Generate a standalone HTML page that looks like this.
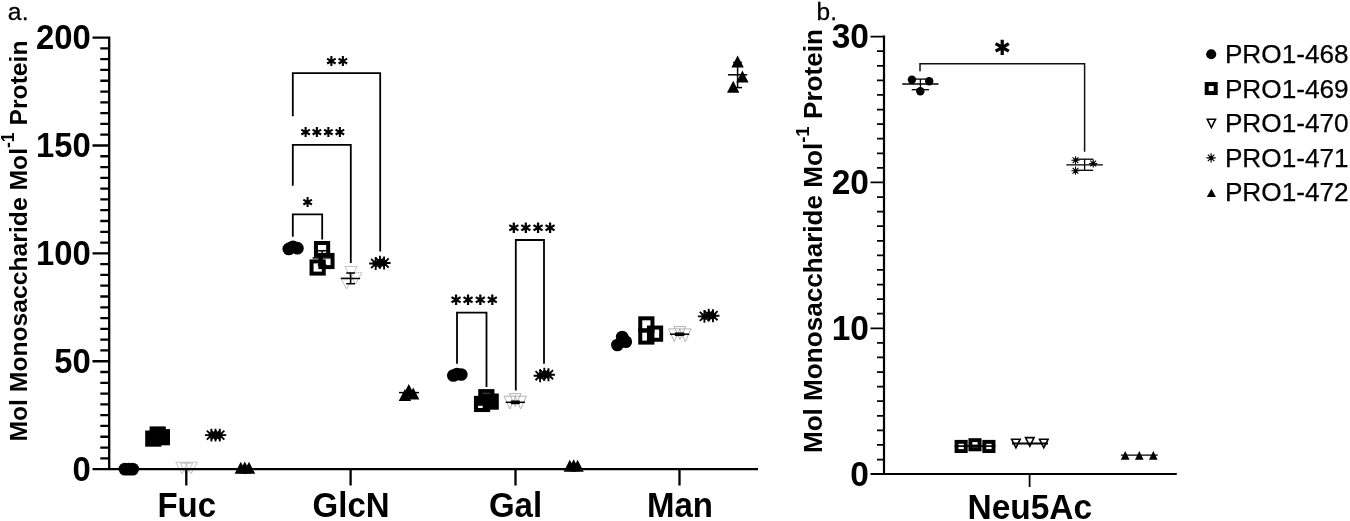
<!DOCTYPE html>
<html lang="en"><head><meta charset="utf-8"><title>Monosaccharide composition</title>
<style>
html,body{margin:0;padding:0;background:#fff;}
body{width:1350px;height:521px;overflow:hidden;}
svg{display:block;font-family:"Liberation Sans", Arial, Helvetica, sans-serif;}
.b{font-weight:bold;}
.ax{stroke:#000;fill:none;}
</style></head><body>
<svg width="1350" height="521" viewBox="0 0 1350 521">
<rect width="1350" height="521" fill="#fff"/>
<text transform="translate(90.8 480.9) scale(0.985 1.06)" font-size="33.3" text-anchor="end" class="b">0</text>
<text transform="translate(90.8 373.03) scale(0.985 1.06)" font-size="33.3" text-anchor="end" class="b">50</text>
<text transform="translate(90.8 265.15) scale(0.985 1.06)" font-size="33.3" text-anchor="end" class="b">100</text>
<text transform="translate(90.8 157.28) scale(0.985 1.06)" font-size="33.3" text-anchor="end" class="b">150</text>
<text transform="translate(90.8 49.4) scale(0.985 1.06)" font-size="33.3" text-anchor="end" class="b">200</text>
<text transform="translate(186.75 516.9) scale(1 1.06)" font-size="33" text-anchor="middle" class="b">Fuc</text>
<text transform="translate(351.05 516.9) scale(1 1.06)" font-size="33" text-anchor="middle" class="b">GlcN</text>
<text transform="translate(515.5 516.9) scale(1 1.06)" font-size="33" text-anchor="middle" class="b">Gal</text>
<text transform="translate(679.95 516.9) scale(1 1.06)" font-size="33" text-anchor="middle" class="b">Man</text>
<text transform="translate(26.7 241) rotate(-90)" font-size="24.7" text-anchor="middle" class="b">Mol Monosaccharide Mol<tspan font-size="17.6" dy="-12.4">-1</tspan><tspan dy="12.4"> Protein</tspan></text>
<text x="7.7" y="20" font-size="24.6" text-anchor="start" stroke="#000" stroke-width="0.3" letter-spacing="0.4">a.</text>
<circle cx="125" cy="469.1" r="6.45" fill="#000"/>
<circle cx="128.8" cy="469.1" r="6.45" fill="#000"/>
<circle cx="132.6" cy="469.1" r="6.45" fill="#000"/>
<rect x="145.2" y="430.5" width="16.2" height="16.2" fill="#000"/>
<rect x="149.6" y="426.4" width="16.2" height="16.2" fill="#000"/>
<rect x="153.8" y="429.1" width="16.2" height="16.2" fill="#000"/>
<path d="M175.7 462.25H188.1L181.9 473.75Z" fill="none" stroke="#bdbdbd" stroke-width="0.9" stroke-linejoin="miter"/>
<path d="M180.3 463.15H192.7L186.5 474.65Z" fill="none" stroke="#bdbdbd" stroke-width="0.9" stroke-linejoin="miter"/>
<path d="M184.9 462.25H197.3L191.1 473.75Z" fill="none" stroke="#bdbdbd" stroke-width="0.9" stroke-linejoin="miter"/>
<path d="M204.95 435.1L217.85 435.1M206.84 430.54L215.96 439.66M211.4 428.65L211.4 441.55M215.96 430.54L206.84 439.66" stroke="#000" stroke-width="1.85" fill="none"/><circle cx="211.4" cy="435.1" r="2.97" fill="#000"/>
<path d="M209.05 435.1L221.95 435.1M210.94 430.54L220.06 439.66M215.5 428.65L215.5 441.55M220.06 430.54L210.94 439.66" stroke="#000" stroke-width="1.85" fill="none"/><circle cx="215.5" cy="435.1" r="2.97" fill="#000"/>
<path d="M213.35 435.1L226.25 435.1M215.24 430.54L224.36 439.66M219.8 428.65L219.8 441.55M224.36 430.54L215.24 439.66" stroke="#000" stroke-width="1.85" fill="none"/><circle cx="219.8" cy="435.1" r="2.97" fill="#000"/>
<path d="M234.6 473.8H247L240.8 461.8Z" fill="#000"/>
<path d="M238.6 473.6H251L244.8 461.6Z" fill="#000"/>
<path d="M242.8 473.8H255.2L249 461.8Z" fill="#000"/>
<circle cx="288.8" cy="248.9" r="6.35" fill="#000"/>
<circle cx="293" cy="246.8" r="6.35" fill="#000"/>
<circle cx="297.4" cy="248.2" r="6.35" fill="#000"/>
<rect x="315.95" y="243" width="12.2" height="12.2" fill="none" stroke="#000" stroke-width="4"/>
<rect x="320.35" y="254.9" width="12.2" height="12.2" fill="none" stroke="#000" stroke-width="4"/>
<rect x="311.55" y="261.4" width="12.2" height="12.2" fill="none" stroke="#000" stroke-width="4"/>
<path d="M312.6 257.9H331.6" stroke="#000" stroke-width="1.5" fill="none"/>
<path d="M317.75 250.8H326.45" stroke="#000" stroke-width="1.5" fill="none"/>
<path d="M317.75 265H326.45" stroke="#000" stroke-width="1.5" fill="none"/>
<path d="M322.1 250.8V265" stroke="#000" stroke-width="1.5" fill="none"/>
<path d="M344.8 266.45H357.2L351 277.95Z" fill="none" stroke="#bdbdbd" stroke-width="0.9" stroke-linejoin="miter"/>
<path d="M349.4 272.75H361.8L355.6 284.25Z" fill="none" stroke="#bdbdbd" stroke-width="0.9" stroke-linejoin="miter"/>
<path d="M340.4 277.65H352.8L346.6 289.15Z" fill="none" stroke="#bdbdbd" stroke-width="0.9" stroke-linejoin="miter"/>
<path d="M341.1 278.5H360.1" stroke="#000" stroke-width="1.5" fill="none"/>
<path d="M346.25 273H354.95" stroke="#000" stroke-width="1.5" fill="none"/>
<path d="M346.25 283.7H354.95" stroke="#000" stroke-width="1.5" fill="none"/>
<path d="M350.6 273V283.7" stroke="#000" stroke-width="1.5" fill="none"/>
<path d="M369.25 263.5L382.15 263.5M371.14 258.94L380.26 268.06M375.7 257.05L375.7 269.95M380.26 258.94L371.14 268.06" stroke="#000" stroke-width="1.85" fill="none"/><circle cx="375.7" cy="263.5" r="2.97" fill="#000"/>
<path d="M373.45 262.2L386.35 262.2M375.34 257.64L384.46 266.76M379.9 255.75L379.9 268.65M384.46 257.64L375.34 266.76" stroke="#000" stroke-width="1.85" fill="none"/><circle cx="379.9" cy="262.2" r="2.97" fill="#000"/>
<path d="M377.65 263L390.55 263M379.54 258.44L388.66 267.56M384.1 256.55L384.1 269.45M388.66 258.44L379.54 267.56" stroke="#000" stroke-width="1.85" fill="none"/><circle cx="384.1" cy="263" r="2.97" fill="#000"/>
<path d="M398.7 400.9H411.1L404.9 388.9Z" fill="#000"/>
<path d="M402.6 396H415L408.8 384Z" fill="#000"/>
<path d="M407 399.4H419.4L413.2 387.4Z" fill="#000"/>
<path d="M399 392.6H419" stroke="#000" stroke-width="1.5" fill="none"/>
<circle cx="453.3" cy="375.5" r="6.35" fill="#000"/>
<circle cx="457" cy="374.1" r="6.35" fill="#000"/>
<circle cx="461.3" cy="374.5" r="6.35" fill="#000"/>
<rect x="478.25" y="389.1" width="16.2" height="16.2" fill="#000"/>
<rect x="473.95" y="395.85" width="16.2" height="16.2" fill="#000"/>
<rect x="482.6" y="393.5" width="16.2" height="16.2" fill="#000"/>
<rect x="478.1" y="405.8" width="4.6" height="2.2" fill="#fff"/>
<rect x="482.4" y="392.7" width="7.8" height="1.4" fill="#333"/>
<path d="M504.1 396.2H515.7L509.9 409Z" fill="none" stroke="#aaa" stroke-width="0.9" stroke-linejoin="miter"/>
<path d="M509.4 393.7H521L515.2 406.5Z" fill="none" stroke="#aaa" stroke-width="0.9" stroke-linejoin="miter"/>
<path d="M514.8 396.2H526.4L520.6 409Z" fill="none" stroke="#aaa" stroke-width="0.9" stroke-linejoin="miter"/>
<path d="M505.6 402.3H525" stroke="#000" stroke-width="1.5" fill="none"/>
<path d="M510.8 401.2H519.8" stroke="#000" stroke-width="1.5" fill="none"/>
<path d="M510.8 403.4H519.8" stroke="#000" stroke-width="1.5" fill="none"/>
<path d="M515.3 401.2V403.4" stroke="#000" stroke-width="1.5" fill="none"/>
<path d="M533.65 375.7L546.55 375.7M535.54 371.14L544.66 380.26M540.1 369.25L540.1 382.15M544.66 371.14L535.54 380.26" stroke="#000" stroke-width="1.85" fill="none"/><circle cx="540.1" cy="375.7" r="2.97" fill="#000"/>
<path d="M537.85 374.2L550.75 374.2M539.74 369.64L548.86 378.76M544.3 367.75L544.3 380.65M548.86 369.64L539.74 378.76" stroke="#000" stroke-width="1.85" fill="none"/><circle cx="544.3" cy="374.2" r="2.97" fill="#000"/>
<path d="M542.05 374.7L554.95 374.7M543.94 370.14L553.06 379.26M548.5 368.25L548.5 381.15M553.06 370.14L543.94 379.26" stroke="#000" stroke-width="1.85" fill="none"/><circle cx="548.5" cy="374.7" r="2.97" fill="#000"/>
<path d="M563.6 471.8H576L569.8 459.8Z" fill="#000"/>
<path d="M567.5 471.2H579.9L573.7 459.2Z" fill="#000"/>
<path d="M571.4 471.8H583.8L577.6 459.8Z" fill="#000"/>
<circle cx="617.4" cy="345" r="6.35" fill="#000"/>
<circle cx="622.2" cy="337" r="6.35" fill="#000"/>
<circle cx="625.8" cy="341.7" r="6.35" fill="#000"/>
<rect x="640.25" y="318.3" width="12.2" height="12.2" fill="none" stroke="#000" stroke-width="4"/>
<rect x="640.25" y="330.4" width="12.2" height="12.2" fill="none" stroke="#000" stroke-width="4"/>
<rect x="648.95" y="327.55" width="12.2" height="12.2" fill="none" stroke="#000" stroke-width="4"/>
<path d="M668.5 328.9H680.1L674.3 341.7Z" fill="none" stroke="#aaa" stroke-width="0.9" stroke-linejoin="miter"/>
<path d="M674.1 326.6H685.7L679.9 339.4Z" fill="none" stroke="#aaa" stroke-width="0.9" stroke-linejoin="miter"/>
<path d="M679.5 328.9H691.1L685.3 341.7Z" fill="none" stroke="#aaa" stroke-width="0.9" stroke-linejoin="miter"/>
<path d="M669.95 334.2H689.25" stroke="#000" stroke-width="1.5" fill="none"/>
<path d="M674.85 333.2H684.35" stroke="#000" stroke-width="1.5" fill="none"/>
<path d="M674.85 335.3H684.35" stroke="#000" stroke-width="1.5" fill="none"/>
<path d="M679.6 333.2V335.3" stroke="#000" stroke-width="1.5" fill="none"/>
<path d="M697.95 316.4L710.85 316.4M699.84 311.84L708.96 320.96M704.4 309.95L704.4 322.85M708.96 311.84L699.84 320.96" stroke="#000" stroke-width="1.85" fill="none"/><circle cx="704.4" cy="316.4" r="2.97" fill="#000"/>
<path d="M702.25 315.1L715.15 315.1M704.14 310.54L713.26 319.66M708.7 308.65L708.7 321.55M713.26 310.54L704.14 319.66" stroke="#000" stroke-width="1.85" fill="none"/><circle cx="708.7" cy="315.1" r="2.97" fill="#000"/>
<path d="M706.55 315.7L719.45 315.7M708.44 311.14L717.56 320.26M713 309.25L713 322.15M717.56 311.14L708.44 320.26" stroke="#000" stroke-width="1.85" fill="none"/><circle cx="713" cy="315.7" r="2.97" fill="#000"/>
<path d="M731.4 67.6H743.8L737.6 55.6Z" fill="#000"/>
<path d="M736.2 82.6H748.6L742.4 70.6Z" fill="#000"/>
<path d="M727 92.8H739.4L733.2 80.8Z" fill="#000"/>
<path d="M727.95 74.8H747.25" stroke="#000" stroke-width="1.5" fill="none"/>
<path d="M733.1 62.5H742.1" stroke="#000" stroke-width="1.5" fill="none"/>
<path d="M733.1 87.6H742.1" stroke="#000" stroke-width="1.5" fill="none"/>
<path d="M737.6 62.5V87.6" stroke="#000" stroke-width="1.5" fill="none"/>
<path class="ax" d="M109.2 36.45V469.1M92.5 469.1H758M100.3 458.31H109.2M100.3 447.53H109.2M100.3 436.74H109.2M100.3 425.95H109.2M100.3 415.16H109.2M100.3 404.38H109.2M100.3 393.59H109.2M100.3 382.8H109.2M100.3 372.01H109.2M92.5 361.23H109.2M100.3 350.44H109.2M100.3 339.65H109.2M100.3 328.86H109.2M100.3 318.08H109.2M100.3 307.29H109.2M100.3 296.5H109.2M100.3 285.71H109.2M100.3 274.93H109.2M100.3 264.14H109.2M92.5 253.35H109.2M100.3 242.56H109.2M100.3 231.78H109.2M100.3 220.99H109.2M100.3 210.2H109.2M100.3 199.41H109.2M100.3 188.62H109.2M100.3 177.84H109.2M100.3 167.05H109.2M100.3 156.26H109.2M92.5 145.48H109.2M100.3 134.69H109.2M100.3 123.9H109.2M100.3 113.11H109.2M100.3 102.33H109.2M100.3 91.54H109.2M100.3 80.75H109.2M100.3 69.96H109.2M100.3 59.18H109.2M100.3 48.39H109.2M92.5 37.6H109.2M186.3 469.1V485.5M350.6 469.1V485.5M515.5 469.1V485.5M679.5 469.1V485.5" stroke-width="2.3"/>
<path d="M292.8 116.2V73.2H380.2V251.5" stroke="#000" stroke-width="1.8" fill="none" stroke-linejoin="miter"/>
<path d="M292.8 185.8V144.9H350.8V262.9" stroke="#000" stroke-width="1.8" fill="none" stroke-linejoin="miter"/>
<path d="M292.8 236.8V214.3H322.2V239.5" stroke="#000" stroke-width="1.8" fill="none" stroke-linejoin="miter"/>
<path d="M457 363.7V312.6H486.5V387" stroke="#000" stroke-width="1.8" fill="none" stroke-linejoin="miter"/>
<path d="M515.8 390.5V240H544V363.7" stroke="#000" stroke-width="1.8" fill="none" stroke-linejoin="miter"/>
<text x="337" y="66" font-size="13.6" text-anchor="middle" font-family="DejaVu Sans, sans-serif">✱✱</text>
<text x="322.5" y="137" font-size="13.6" text-anchor="middle" font-family="DejaVu Sans, sans-serif">✱✱✱✱</text>
<text x="307.4" y="207" font-size="13.6" text-anchor="middle" font-family="DejaVu Sans, sans-serif">✱</text>
<text x="474.2" y="305.4" font-size="14.46" text-anchor="middle" font-family="DejaVu Sans, sans-serif">✱✱✱✱</text>
<text x="531.9" y="232.7" font-size="14.46" text-anchor="middle" font-family="DejaVu Sans, sans-serif">✱✱✱✱</text>
<path class="ax" d="M884 35.62V474M870.5 474H1176.8" stroke-width="2.2"/>
<path class="ax" d="M877 459.52H884M877 444.93H884M877 430.35H884M877 415.77H884M877 401.18H884M877 386.6H884M877 372.02H884M877 357.43H884M877 342.85H884M870.5 328.27H884M877 313.68H884M877 299.1H884M877 284.52H884M877 269.93H884M877 255.35H884M877 240.77H884M877 226.18H884M877 211.6H884M877 197.02H884M870.5 182.43H884M877 167.85H884M877 153.27H884M877 138.68H884M877 124.1H884M877 109.52H884M877 94.93H884M877 80.35H884M877 65.77H884M877 51.18H884M870.5 36.6H884M1029.6 474V487" stroke-width="1.75"/>
<text transform="translate(868.9 486.2) scale(0.985 1.03)" font-size="34" text-anchor="end" class="b">0</text>
<text transform="translate(868.9 340.37) scale(0.985 1.03)" font-size="34" text-anchor="end" class="b">10</text>
<text transform="translate(868.9 193.73) scale(0.985 1.03)" font-size="34" text-anchor="end" class="b">20</text>
<text transform="translate(868.9 47.9) scale(0.985 1.03)" font-size="34" text-anchor="end" class="b">30</text>
<text transform="translate(1029.8 518.7) scale(1 1.05)" font-size="33.5" text-anchor="middle" class="b">Neu5Ac</text>
<text transform="translate(822 241.1) rotate(-90)" font-size="26.1" text-anchor="middle" class="b">Mol Monosaccharide Mol<tspan font-size="18.6" dy="-12.9">-1</tspan><tspan dy="12.9"> Protein</tspan></text>
<text x="816.4" y="19.6" font-size="24.4" text-anchor="start" stroke="#000" stroke-width="0.3" letter-spacing="0.4">b.</text>
<path d="M902.25 84H938.55" stroke="#000" stroke-width="1.3" fill="none"/>
<path d="M911.75 79.1H929.05" stroke="#000" stroke-width="1.3" fill="none"/>
<path d="M911.75 89.7H929.05" stroke="#000" stroke-width="1.3" fill="none"/>
<path d="M920.4 79.1V89.7" stroke="#000" stroke-width="1.3" fill="none"/>
<circle cx="911.9" cy="79.8" r="4.2" fill="#000"/>
<circle cx="929.2" cy="81.2" r="4.2" fill="#000"/>
<circle cx="920.3" cy="91.2" r="4.2" fill="#000"/>
<path d="M920 71.3V63.7H1084.6V151.7" stroke="#111" stroke-width="1.5" fill="none"/>
<text x="1002.3" y="55.3" font-size="20.9" text-anchor="middle" font-family="DejaVu Sans, sans-serif">✱</text>
<path d="M1066.35 164.9H1102.85" stroke="#000" stroke-width="1.3" fill="none"/>
<path d="M1076 159.2H1093.2" stroke="#000" stroke-width="1.3" fill="none"/>
<path d="M1076 170.3H1093.2" stroke="#000" stroke-width="1.3" fill="none"/>
<path d="M1084.6 159.2V170.3" stroke="#000" stroke-width="1.3" fill="none"/>
<path d="M1071.4 160.3L1079.6 160.3M1072.6 157.4L1078.4 163.2M1075.5 156.2L1075.5 164.4M1078.4 157.4L1072.6 163.2" stroke="#000" stroke-width="1.1" fill="none"/><circle cx="1075.5" cy="160.3" r="1.89" fill="#000"/>
<path d="M1089.1 163.5L1097.3 163.5M1090.3 160.6L1096.1 166.4M1093.2 159.4L1093.2 167.6M1096.1 160.6L1090.3 166.4" stroke="#000" stroke-width="1.1" fill="none"/><circle cx="1093.2" cy="163.5" r="1.89" fill="#000"/>
<path d="M1071.4 170.7L1079.6 170.7M1072.6 167.8L1078.4 173.6M1075.5 166.6L1075.5 174.8M1078.4 167.8L1072.6 173.6" stroke="#000" stroke-width="1.1" fill="none"/><circle cx="1075.5" cy="170.7" r="1.89" fill="#000"/>
<path d="M954.6 446.2H995.5" stroke="#000" stroke-width="1.3" fill="none"/>
<rect x="956.55" y="441.85" width="9.2" height="9.2" fill="none" stroke="#000" stroke-width="3.9"/>
<rect x="970.4" y="440.15" width="9.2" height="9.2" fill="none" stroke="#000" stroke-width="3.9"/>
<rect x="984.3" y="441.85" width="9.2" height="9.2" fill="none" stroke="#000" stroke-width="3.9"/>
<path d="M957 446.2H993" stroke="#000" stroke-width="1.3" fill="none"/>
<rect x="971" y="444.6" width="8" height="3" fill="#000"/>
<path d="M1011.6 439.2H1020.2L1015.9 447.8Z" fill="none" stroke="#000" stroke-width="1.6" stroke-linejoin="miter"/>
<path d="M1025.5 437.6H1034.1L1029.8 446.2Z" fill="none" stroke="#000" stroke-width="1.6" stroke-linejoin="miter"/>
<path d="M1039.5 439.2H1048.1L1043.8 447.8Z" fill="none" stroke="#000" stroke-width="1.6" stroke-linejoin="miter"/>
<path d="M1012 443.5H1048" stroke="#000" stroke-width="2.2" fill="none"/>
<path d="M1120.9 455.1H1157.8" stroke="#000" stroke-width="1.3" fill="none"/>
<path d="M1120.85 459.7H1129.55L1125.2 451.1Z" fill="#000"/>
<path d="M1134.95 459.7H1143.65L1139.3 451.1Z" fill="#000"/>
<path d="M1148.95 459.7H1157.65L1153.3 451.1Z" fill="#000"/>
<text x="1224.9" y="63.1" font-size="26.2" text-anchor="start" stroke="#000" stroke-width="0.25">PRO1-468</text>
<text x="1224.9" y="97.6" font-size="26.2" text-anchor="start" stroke="#000" stroke-width="0.25">PRO1-469</text>
<text x="1224.9" y="132.3" font-size="26.2" text-anchor="start" stroke="#000" stroke-width="0.25">PRO1-470</text>
<text x="1224.9" y="166.9" font-size="26.2" text-anchor="start" stroke="#000" stroke-width="0.25">PRO1-471</text>
<text x="1224.9" y="201.4" font-size="26.2" text-anchor="start" stroke="#000" stroke-width="0.25">PRO1-472</text>
<circle cx="1211.2" cy="54.2" r="5.05" fill="#000"/>
<rect x="1206.7" y="84.05" width="9" height="9" fill="none" stroke="#000" stroke-width="4"/>
<path d="M1207.3 119.3H1215.5L1211.4 127.5Z" fill="none" stroke="#000" stroke-width="1.6" stroke-linejoin="miter"/>
<path d="M1206.5 157.8L1215.7 157.8M1207.85 154.55L1214.35 161.05M1211.1 153.2L1211.1 162.4M1214.35 154.55L1207.85 161.05" stroke="#000" stroke-width="1.2" fill="none"/><circle cx="1211.1" cy="157.8" r="2.12" fill="#000"/>
<path d="M1206.85 197.1H1215.95L1211.4 188.7Z" fill="#000"/>
</svg></body></html>
